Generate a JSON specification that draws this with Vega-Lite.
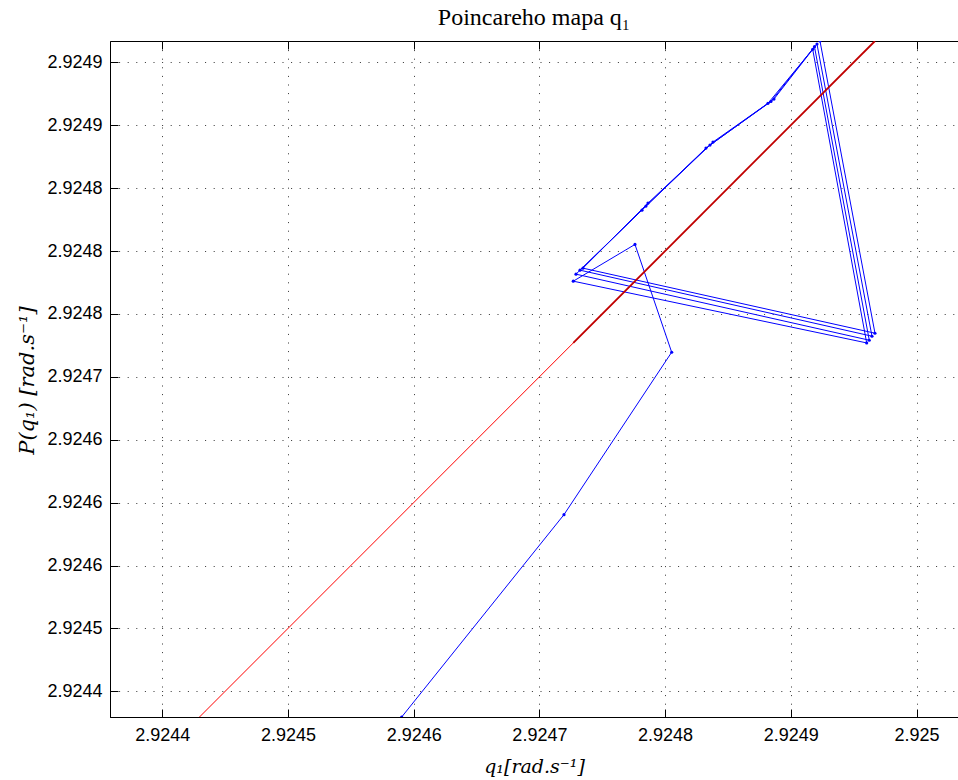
{
  "$schema": "https://vega.github.io/schema/vega-lite/v6.json",
  "width": 848,
  "height": 676,
  "autosize": {"type": "none"},
  "padding": {"left": 110, "top": 41, "right": 0, "bottom": 63},
  "background": "white",
  "title": {"text": "Poincareho mapa q₁", "font": "Liberation Serif", "fontSize": 24, "fontWeight": "normal", "color": "#000", "anchor": "middle", "baseline": "alphabetic", "offset": 14, "dy": 22},
  "config": {
    "view": {"stroke": "#000", "strokeWidth": 1},
    "axis": {
      "labelFont": "Liberation Sans", "labelFontSize": 18, "labelColor": "#000",
      "titleFont": "DejaVu Serif", "titleFontSize": 19, "titleFontWeight": "normal", "titleFontStyle": "italic", "titleColor": "#000",
      "tickColor": "#000", "tickSize": -8, "tickWidth": 1,
      "domainColor": "#000", "domainWidth": 1,
      "gridColor": "#333", "gridDash": [1, 7.6], "gridWidth": 1, "gridOpacity": 1
    }
  },
  "datasets": {
    "traj": [
      {"n": 0, "q": 2.92459044, "p": 2.92442959},
      {"n": 1, "q": 2.92471955, "p": 2.92459044},
      {"n": 2, "q": 2.92480523, "p": 2.92471955},
      {"n": 3, "q": 2.92477603, "p": 2.92480523},
      {"n": 4, "q": 2.92472695, "p": 2.92477603},
      {"n": 5, "q": 2.92496035, "p": 2.92472695},
      {"n": 6, "q": 2.92491739, "p": 2.92496035},
      {"n": 7, "q": 2.92488183, "p": 2.92491739},
      {"n": 8, "q": 2.92483251, "p": 2.92488183},
      {"n": 9, "q": 2.92478160, "p": 2.92483251},
      {"n": 10, "q": 2.92472910, "p": 2.92478160},
      {"n": 11, "q": 2.92496242, "p": 2.92472910},
      {"n": 12, "q": 2.92491883, "p": 2.92496242},
      {"n": 13, "q": 2.92488422, "p": 2.92491883},
      {"n": 14, "q": 2.92483570, "p": 2.92488422},
      {"n": 15, "q": 2.92478478, "p": 2.92483570},
      {"n": 16, "q": 2.92473228, "p": 2.92478478},
      {"n": 17, "q": 2.92496457, "p": 2.92473228},
      {"n": 18, "q": 2.92492081, "p": 2.92496457},
      {"n": 19, "q": 2.92488661, "p": 2.92492081},
      {"n": 20, "q": 2.92483808, "p": 2.92488661},
      {"n": 21, "q": 2.92478637, "p": 2.92483808},
      {"n": 22, "q": 2.92473467, "p": 2.92478637},
      {"n": 23, "q": 2.92496695, "p": 2.92473467},
      {"n": 24, "q": 2.92492320, "p": 2.92496695}
    ],
    "diag": [
      {"q": 2.92442959, "p": 2.92442959},
      {"q": 2.92496695, "p": 2.92496695}
    ],
    "diagCycle": [
      {"q": 2.92472695, "p": 2.92472695},
      {"q": 2.92496695, "p": 2.92496695}
    ]
  },
  "layer": [
    {
      "data": {"name": "traj"},
      "mark": {"type": "line", "color": "#0000ff", "strokeWidth": 1, "clip": true, "point": {"filled": true, "size": 10, "color": "#0000ff"}},
      "encoding": {
        "x": {"field": "q", "type": "quantitative", "scale": {"domain": [2.9243584, 2.925033], "nice": false, "zero": false},
              "axis": {"orient": "top", "labels": false, "grid": false, "domain": false, "title": null, "values": [2.9244, 2.9245, 2.9246, 2.9247, 2.9248, 2.9249, 2.925]}},
        "y": {"field": "p", "type": "quantitative", "scale": {"domain": [2.92442959, 2.92496695], "nice": false, "zero": false},
              "axis": {"title": "P(q₁) [rad.s⁻¹]", "titleX": -77, "titleY": 339, "titleAlign": "center", "titleBaseline": "alphabetic", "titleAngle": -90, "titleFontSize": 21,
                       "values": [2.92445, 2.9245, 2.92455, 2.9246, 2.92465, 2.9247, 2.92475, 2.9248, 2.92485, 2.9249, 2.92495],
                       "labelExpr": "['2.9244','2.9245','2.9246','2.9246','2.9246','2.9247','2.9248','2.9248','2.9248','2.9249','2.9249'][round((datum.value-2.92445)*20000)]",
                       "labelPadding": 16, "labelAlign": "right", "labelBaseline": "middle", "grid": true}},
        "order": {"field": "n", "type": "quantitative"}
      }
    },
    {
      "data": {"name": "diag"},
      "mark": {"type": "line", "color": "#ff0000", "strokeWidth": 1, "clip": true},
      "encoding": {
        "x": {"field": "q", "type": "quantitative", "scale": {"domain": [2.9243584, 2.925033], "nice": false, "zero": false},
              "axis": {"orient": "bottom", "title": "q₁[rad.s⁻¹]", "titleBaseline": "alphabetic", "titleY": 55, "labelPadding": 17,
                       "values": [2.9244, 2.9245, 2.9246, 2.9247, 2.9248, 2.9249, 2.925], "format": ".5~g", "grid": true}},
        "y": {"field": "p", "type": "quantitative", "scale": {"domain": [2.92442959, 2.92496695], "nice": false, "zero": false},
              "axis": {"title": "P(q₁) [rad.s⁻¹]", "titleX": -77, "titleY": 339, "titleAlign": "center", "titleBaseline": "alphabetic", "titleAngle": -90, "titleFontSize": 21,
                       "values": [2.92445, 2.9245, 2.92455, 2.9246, 2.92465, 2.9247, 2.92475, 2.9248, 2.92485, 2.9249, 2.92495],
                       "labelExpr": "['2.9244','2.9245','2.9246','2.9246','2.9246','2.9247','2.9248','2.9248','2.9248','2.9249','2.9249'][round((datum.value-2.92445)*20000)]",
                       "labelPadding": 16, "labelAlign": "right", "labelBaseline": "middle", "grid": true}}
      }
    },
    {
      "data": {"name": "diagCycle"},
      "mark": {"type": "line", "color": "#c00000", "strokeWidth": 1.8, "clip": true},
      "encoding": {
        "x": {"field": "q", "type": "quantitative", "scale": {"domain": [2.9243584, 2.925033], "nice": false, "zero": false}, "axis": null},
        "y": {"field": "p", "type": "quantitative", "scale": {"domain": [2.92442959, 2.92496695], "nice": false, "zero": false},
              "axis": {"title": "P(q₁) [rad.s⁻¹]", "titleX": -77, "titleY": 339, "titleAlign": "center", "titleBaseline": "alphabetic", "titleAngle": -90, "titleFontSize": 21,
                       "values": [2.92445, 2.9245, 2.92455, 2.9246, 2.92465, 2.9247, 2.92475, 2.9248, 2.92485, 2.9249, 2.92495],
                       "labelExpr": "['2.9244','2.9245','2.9246','2.9246','2.9246','2.9247','2.9248','2.9248','2.9248','2.9249','2.9249'][round((datum.value-2.92445)*20000)]",
                       "labelPadding": 16, "labelAlign": "right", "labelBaseline": "middle", "grid": true}}
      }
    }
  ],
  "resolve": {"axis": {"x": "independent"}}
}
